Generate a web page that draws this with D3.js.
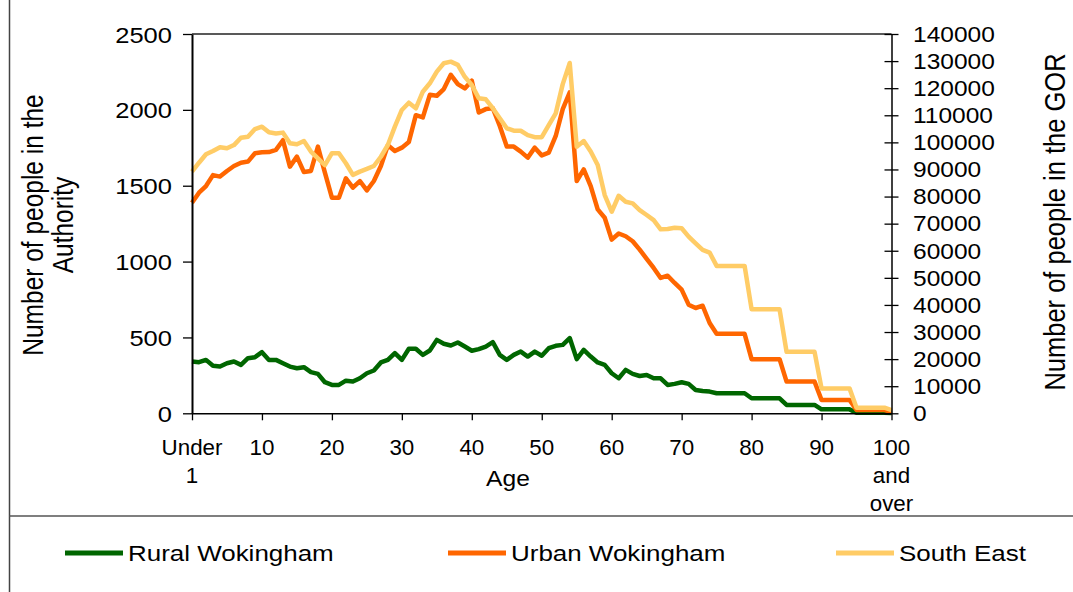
<!DOCTYPE html>
<html><head><meta charset="utf-8">
<script src="https://cdn.jsdelivr.net/npm/d3@7/dist/d3.min.js"></script>
<style>
html,body{margin:0;padding:0;background:#fff;}
svg text{font-family:"Liberation Sans",Arial,sans-serif;fill:#000;}
</style></head>
<body>
<svg id="c" width="1073" height="592"></svg>
<script>
// ---- data ----
const ages = Array.from({length:101},(_,i)=>i);
const rural = [341,337,352,313,308,330,341,319,363,370,403,352,352,330,308,297,304,271,260,205,
187,187,215,209,231,264,282,335,352,397,352,425,425,385,414,484,458,447,467,440,
412,423,440,469,385,352,385,407,374,407,379,429,445,451,496,357,418,374,335,319,
264,231,286,260,246,253,231,231,187,194,205,194,154,147,143,132,132,132,132,132,
99,99,99,99,99,55,55,55,55,55,26,26,26,26,26,4,4,4,4,4,2];
const urban = [1388,1454,1498,1570,1560,1597,1630,1652,1659,1714,1720,1722,1736,1800,1626,1692,1590,1597,1758,1586,
1421,1421,1549,1487,1531,1469,1531,1630,1767,1729,1751,1788,1965,1950,2099,2093,2137,2231,2170,2141,
2192,1983,2005,2011,1894,1758,1758,1725,1685,1751,1700,1718,1828,2005,2115,1531,1608,1498,1344,1289,
1145,1185,1167,1134,1079,1018,958,892,907,859,815,716,694,709,595,524,524,524,524,524,
357,357,357,357,357,209,209,209,209,209,88,88,88,88,88,22,22,22,22,22,10];
const southEast = [89170,92500,95600,96800,98200,97800,99000,101700,102100,104900,105800,103700,103300,103600,99700,99300,100500,96600,94100,91600,
96000,96000,92300,88000,89200,90200,91280,94700,99030,105800,111950,114640,112580,118700,121800,126100,129200,129800,128600,124200,
121200,116300,115900,112600,108900,105200,104300,104300,102700,101900,101900,106400,110700,121500,129300,98400,100500,96600,91650,80570,
74400,80300,78100,77500,75000,73200,71300,67900,68000,68500,68300,65200,62700,60300,59300,54400,54400,54400,54400,54400,
38400,38400,38400,38400,38400,22700,22700,22700,22700,22700,9200,9200,9200,9200,9200,2070,2070,2070,2070,2070,1200];
const xTickValues = [0,10,20,30,40,50,60,70,80,90,100];
const xTickLabels = [["Under","1"],["10"],["20"],["30"],["40"],["50"],["60"],["70"],["80"],["90"],["100","and","over"]];
const leftTicks = [0,500,1000,1500,2000,2500];
const rightTicks = [0,10000,20000,30000,40000,50000,60000,70000,80000,90000,100000,110000,120000,130000,140000];
const seriesNames = ["Rural Wokingham","Urban Wokingham","South East"];
const seriesColors = ["#006600","#FF6600","#FFCC66"];
const leftTitle = ["Number of people in the","Authority"];
const rightTitle = "Number of people in the GOR";
const xTitle = "Age";

// ---- layout ----
const L=192, R=891.5, T=34, B=413.3;
const svg=d3.select("#c");
const x=d3.scaleLinear().domain([0,100]).range([L,R]);
const yL=d3.scaleLinear().domain([0,2500]).range([B,T]);
const yR=d3.scaleLinear().domain([0,140000]).range([B,T]);

function txt(g,s,xx,yy,anchor,fs,sx,sy,rot){
  return g.append("text").attr("transform",`translate(${xx},${yy})`+(rot?` rotate(${rot})`:"")+` scale(${sx},${sy})`)
   .attr("text-anchor",anchor).attr("font-size",fs).text(s);
}

// outer frame lines
svg.append("line").attr("x1",9.5).attr("x2",9.5).attr("y1",0).attr("y2",592).attr("stroke","#444").attr("stroke-width",1.5);
svg.append("line").attr("x1",9.5).attr("x2",1073).attr("y1",516).attr("y2",516).attr("stroke","#555").attr("stroke-width",1.5);

// plot top border
svg.append("line").attr("x1",L).attr("x2",R).attr("y1",T).attr("y2",T).attr("stroke","#222").attr("stroke-width",1.5);

// series
const line=(ys,data)=>d3.line().x((d,i)=>x(ages[i])).y(d=>ys(d))(data);
const g=svg.append("g");
[[rural,yL],[urban,yL],[southEast,yR]].forEach(([data,ys],k)=>{
  g.append("path").attr("d",line(ys,data)).attr("fill","none").attr("stroke",seriesColors[k])
   .attr("stroke-width",4.5).attr("stroke-linejoin","round").attr("stroke-linecap","butt");
});

// left axis
const la=svg.append("g").attr("transform",`translate(${L},0)`)
  .call(d3.axisLeft(yL).tickValues(leftTicks).tickSize(9).tickSizeOuter(0).tickFormat(""));
la.select(".domain").attr("stroke","#000").attr("stroke-width",2);
la.selectAll(".tick line").attr("stroke","#000").attr("stroke-width",1.3);
leftTicks.forEach(v=>txt(svg,String(v),172,yL(v)+8.5,"end",22,1.16,1));

// right axis
const ra=svg.append("g").attr("transform",`translate(${R},0)`)
  .call(d3.axisRight(yR).tickValues(rightTicks).tickSize(7).tickSizeOuter(0).tickFormat(""));
ra.selectAll(".tick line").attr("x1",-7);
ra.select(".domain").attr("stroke","#000").attr("stroke-width",1.5);
ra.selectAll(".tick line").attr("stroke","#000").attr("stroke-width",1.3);
rightTicks.forEach(v=>txt(svg,String(v),913,yR(v)+7.8,"start",21.5,1.14,1));

// bottom axis
const ba=svg.append("g").attr("transform",`translate(0,${B})`)
  .call(d3.axisBottom(x).tickValues(xTickValues).tickSize(7).tickSizeOuter(0).tickFormat(""));
ba.select(".domain").attr("stroke","#000").attr("stroke-width",1.5);
ba.selectAll(".tick line").attr("stroke","#000").attr("stroke-width",1.3);
xTickValues.forEach((v,i)=>xTickLabels[i].forEach((s,j)=>txt(svg,s,x(v),455+28*j,"middle",21.5,1.04,1)));

// titles
txt(svg,xTitle,508,486,"middle",22,1.12,1);
leftTitle.forEach((s,j)=>txt(svg,s,42.7+30*j,225,"middle",24.5,1,1.2,-90));
txt(svg,rightTitle,1065,222,"middle",25.5,1,1.15,-90);

// legend
const legX=[65,448,836];
seriesNames.forEach((s,k)=>{
  svg.append("line").attr("x1",legX[k]).attr("x2",legX[k]+58).attr("y1",553).attr("y2",553)
    .attr("stroke",seriesColors[k]).attr("stroke-width",5);
  txt(svg,s,legX[k]+63,561,"start",22,1.18,1);
});
</script>
</body></html>
